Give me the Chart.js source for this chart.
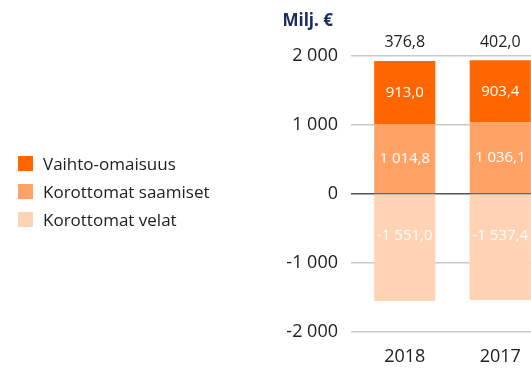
<!DOCTYPE html>
<html lang="fi">
<head>
<meta charset="utf-8">
<title>Nettokäyttöpääoma</title>
<script src="https://cdn.jsdelivr.net/npm/chart.js@4/dist/chart.umd.min.js"></script>
<style>
    html, body {
        margin: 0;
        padding: 0;
        width: 531px;
        height: 368px;
        overflow: hidden;
        background: #fff;
        font-family: "Open Sans", sans-serif;
        color: #222;
    }
    .chart-wrap {
        position: absolute;
        left: 0;
        top: 0;
        width: 560px;
        height: 368px;
    }
    .unit {
        position: absolute;
        right: 198px;
        top: 8px;
        font-size: 17px;
        font-weight: bold;
        color: #1d2b64;
    }
    .legend {
        position: absolute;
        left: 18px;
        top: 149px;
    }
    .legend-item {
        display: flex;
        align-items: center;
        height: 28px;
        font-size: 17px;
    }
    .legend-item i {
        display: inline-block;
        width: 15px;
        height: 15px;
        margin-right: 10px;
    }
</style>
</head>
<body>
<div class="chart-wrap"><canvas id="capitalChart"></canvas></div>
<div class="unit">Milj. €</div>
<div class="legend" id="legend"></div>

<script>
const categories = ['2018', '2017'];
const vaihtoOmaisuus = [913.0, 903.4];
const korottomatSaamiset = [1014.8, 1036.1];
const korottomatVelat = [-1551.0, -1537.4];
const totals = [376.8, 402.0];
const yMin = -2000;
const yMax = 2000;
const yStep = 1000;

// Finnish number format: space as thousands separator, comma as decimal mark
function formatFi(value, decimals) {
    const sign = value < 0 ? '-' : '';
    const parts = Math.abs(value).toFixed(decimals).split('.');
    const whole = parts[0].replace(/\B(?=(\d{3})+(?!\d))/g, ' ');
    return sign + whole + (parts[1] ? ',' + parts[1] : '');
}

class CapitalChart {
    constructor() {
        this.series = [
            { label: 'Vaihto-omaisuus', data: vaihtoOmaisuus, color: '#ff6600' },
            { label: 'Korottomat saamiset', data: korottomatSaamiset, color: '#ffa263' },
            { label: 'Korottomat velat', data: korottomatVelat, color: '#ffd3b4' }
        ];

        this.buildLegend();
        this.drawChart();
    }

    buildLegend() {
        document.getElementById('legend').innerHTML = this.series.map(s => `
            <div class="legend-item"><i style="background:${s.color}"></i>${s.label}</div>
        `).join('');
    }

    drawChart() {
        // Saamiset first so it sits on the zero line, vaihto-omaisuus stacks on top
        const order = [1, 0, 2];
        const datasets = order.map(i => ({
            label: this.series[i].label,
            data: this.series[i].data,
            backgroundColor: this.series[i].color,
            barPercentage: 0.64,
            categoryPercentage: 1
        }));

        const valueLabels = {
            id: 'valueLabels',
            afterDatasetsDraw(chart) {
                const ctx = chart.ctx;
                ctx.save();
                ctx.textAlign = 'center';
                ctx.textBaseline = 'middle';
                ctx.font = '15px "Open Sans"';
                ctx.fillStyle = '#fff';
                chart.data.datasets.forEach((ds, i) => {
                    chart.getDatasetMeta(i).data.forEach((bar, j) => {
                        const value = ds.data[j];
                        let y = (bar.y + bar.base) / 2;
                        if (value < 0) y = bar.base + (bar.y - bar.base) * 0.39;
                        ctx.fillText(formatFi(value, 1), bar.x, y);
                    });
                });

                // stack totals above the top gridline
                const top = chart.scales.y.getPixelForValue(yMax) - 14;
                ctx.fillStyle = '#222';
                ctx.font = '16px "Open Sans"';
                chart.getDatasetMeta(0).data.forEach((bar, j) => {
                    ctx.fillText(formatFi(totals[j], 1), bar.x, top);
                });
                ctx.restore();
            }
        };

        new Chart(document.getElementById('capitalChart'), {
            type: 'bar',
            data: {
                labels: categories,
                datasets: datasets
            },
            options: {
                responsive: true,
                maintainAspectRatio: false,
                animation: false,
                events: [],
                layout: {
                    padding: { top: 56, right: 12, bottom: 0, left: 0 }
                },
                plugins: {
                    legend: { display: false },
                    tooltip: { enabled: false }
                },
                scales: {
                    x: {
                        stacked: true,
                        afterFit: scale => { scale.height = 36; },
                        grid: { display: false, tickLength: 0 },
                        border: { display: false },
                        ticks: {
                            color: '#222',
                            padding: 14,
                            font: { family: 'Open Sans', size: 18 }
                        }
                    },
                    y: {
                        stacked: true,
                        min: yMin,
                        max: yMax,
                        afterFit: scale => { scale.width = 357; },
                        border: { display: false },
                        grid: {
                            tickLength: 6,
                            lineWidth: 1.5,
                            color: ctx => ctx.tick && ctx.tick.value === 0 ? '#555' : '#c9c9c9'
                        },
                        ticks: {
                            stepSize: yStep,
                            padding: 13,
                            color: '#222',
                            font: { family: 'Open Sans', size: 18 },
                            callback: value => formatFi(value, 0)
                        }
                    }
                }
            },
            plugins: [valueLabels]
        });
    }
}

window.addEventListener('load', () => {
    new CapitalChart();
});
</script>
</body>
</html>
